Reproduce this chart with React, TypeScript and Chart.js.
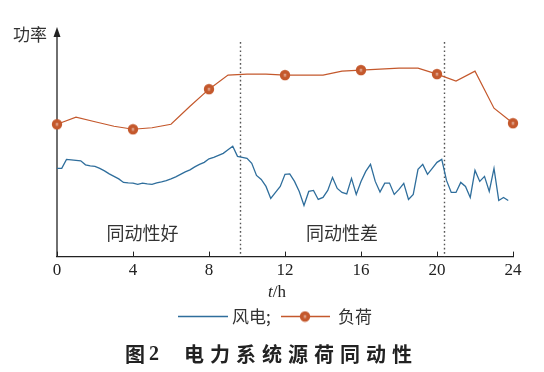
import { useEffect, useRef } from "react";
import { Chart, registerables } from "chart.js";

Chart.register(...registerables);

// ---- data ----
const hourTicks = [0, 4, 8, 12, 16, 20, 24];
// hourly load (arbitrary power units), hours 0..24
const loadValues = [
  132, 139, 134.5, 130, 127, 128.5, 132, 150, 167, 181, 182, 182, 181,
  181, 181, 185, 186, 187, 188, 188, 182, 175, 185, 148, 133,
];
// wind power every 15 min, hours 0..23.75
const windValues = [
  88, 88, 97, 96.5, 96, 95.5, 91.5, 90.5,
  90, 88, 85.5, 82.5, 80, 77.5, 74, 73.5,
  73.3, 72, 73.3, 72.5, 72, 73.5, 74.5, 75.7,
  77.5, 79.5, 82, 84.5, 86.5, 89.5, 92, 94,
  97.5, 99, 101, 103, 106.5, 110, 100, 99,
  98, 93, 81, 77, 70, 58, 64, 70,
  82, 82.5, 75, 65, 51, 65, 66, 57,
  59, 66, 79, 68, 64, 62.5, 78, 62,
  75, 85, 92, 75, 64.3, 73.3, 73.3, 62,
  67, 73, 57, 62, 87, 92, 82, 88,
  94, 97, 76, 64, 64, 74, 70, 59,
  86, 75, 80, 65, 88, 56, 59, 56,
];
const windStepHours = 0.25;
const boundaryHours = [9.63, 20.37];
const regionLabels = ["同动性好", "同动性差"];
const regionLabelHours = [4.5, 15];
const seriesNames = ["风电", "负荷"];
const yAxisName = "功率";
const captionPrefix = ["图", "2"];
const captionText = "电力系统源荷同动性";

const BLUE = "#2f6e9c";
const ORANGE = "#c4582c";
const INK = "#222222";
const CJK = '"Noto Sans CJK SC", sans-serif';
const SERIF = '"Liberation Serif", "Times New Roman", serif';

function makeMarker(): HTMLCanvasElement {
  const c = document.createElement("canvas");
  c.width = 12;
  c.height = 12;
  const g = c.getContext("2d")!;
  g.fillStyle = ORANGE;
  g.beginPath();
  g.arc(6, 6, 5.2, 0, Math.PI * 2);
  g.fill();
  g.strokeStyle = "rgba(255,255,255,0.75)";
  g.lineWidth = 0.8;
  g.beginPath();
  g.moveTo(4.7, 5.3);
  g.lineTo(7.3, 5.3);
  g.moveTo(4.7, 6.9);
  g.lineTo(7.3, 6.9);
  g.stroke();
  return c;
}

export default function App() {
  const ref = useRef<HTMLCanvasElement | null>(null);

  useEffect(() => {
    if (!ref.current) return;
    const marker = makeMarker();

    const overlay = {
      id: "overlay",
      beforeDatasetsDraw(chart: any) {
        const { ctx, chartArea, scales } = chart;
        const xs = scales.x;
        const ys = scales.y;
        ctx.save();
        // dotted boundaries
        ctx.strokeStyle = "#555";
        ctx.lineWidth = 1.4;
        ctx.setLineDash([1.6, 2.6]);
        for (const h of boundaryHours) {
          const px = Math.round(xs.getPixelForValue(h)) + 0.5;
          ctx.beginPath();
          ctx.moveTo(px, ys.getPixelForValue(214));
          ctx.lineTo(px, chartArea.bottom);
          ctx.stroke();
        }
        ctx.setLineDash([]);
        // inward ticks
        ctx.strokeStyle = INK;
        ctx.lineWidth = 1;
        for (const h of hourTicks) {
          const px = Math.round(xs.getPixelForValue(h)) + 0.5;
          ctx.beginPath();
          ctx.moveTo(px, chartArea.bottom);
          ctx.lineTo(px, chartArea.bottom - 5);
          ctx.stroke();
        }
        // y axis with arrow
        const ax = xs.getPixelForValue(0);
        ctx.lineWidth = 1.3;
        ctx.beginPath();
        ctx.moveTo(ax, chartArea.bottom);
        ctx.lineTo(ax, chartArea.top + 6);
        ctx.stroke();
        ctx.fillStyle = INK;
        ctx.beginPath();
        ctx.moveTo(ax, chartArea.top - 1);
        ctx.lineTo(ax - 3.5, chartArea.top + 9);
        ctx.lineTo(ax + 3.5, chartArea.top + 9);
        ctx.closePath();
        ctx.fill();
        // y axis name
        ctx.fillStyle = "#333";
        ctx.font = `17px ${CJK}`;
        ctx.textAlign = "left";
        ctx.textBaseline = "middle";
        ctx.fillText(yAxisName, 13, 35);
        // region labels
        ctx.font = `18px ${CJK}`;
        ctx.textAlign = "center";
        regionLabels.forEach((t, i) => {
          ctx.fillText(t, xs.getPixelForValue(regionLabelHours[i]), ys.getPixelForValue(23));
        });
        ctx.restore();
      },
      afterDraw(chart: any) {
        const { ctx } = chart;
        ctx.save();
        ctx.textBaseline = "middle";
        // x axis title t/h
        ctx.fillStyle = INK;
        ctx.font = `italic 17px ${SERIF}`;
        ctx.textAlign = "left";
        ctx.fillText("t", 268, 293);
        const tw = ctx.measureText("t").width;
        ctx.font = `17px ${SERIF}`;
        ctx.fillText("/h", 268 + tw, 293);
        // legend
        const ly = 316.5;
        ctx.lineWidth = 1.3;
        ctx.strokeStyle = BLUE;
        ctx.beginPath();
        ctx.moveTo(178, ly);
        ctx.lineTo(228, ly);
        ctx.stroke();
        ctx.fillStyle = "#333";
        ctx.font = `17px ${CJK}`;
        ctx.fillText(seriesNames[0] + ";", 232, ly);
        ctx.strokeStyle = ORANGE;
        ctx.beginPath();
        ctx.moveTo(281, ly);
        ctx.lineTo(330, ly);
        ctx.stroke();
        ctx.drawImage(marker, 305 - 6, ly - 6);
        ctx.fillText(seriesNames[1], 338, ly);
        // caption
        ctx.fillStyle = "#222";
        ctx.font = `bold 20px ${CJK}`;
        ctx.fillText(captionPrefix[0], 125, 354);
        ctx.font = `bold 20px ${SERIF}`;
        ctx.fillText(captionPrefix[1], 149, 355);
        ctx.font = `bold 20px ${CJK}`;
        Array.from(captionText).forEach((ch, i) => {
          ctx.fillText(ch, 184 + i * 26, 354);
        });
        ctx.restore();
      },
    };

    const chart = new Chart(ref.current, {
      type: "line",
      data: {
        datasets: [
          {
            label: seriesNames[0],
            data: windValues.map((v, i) => ({ x: i * windStepHours, y: v })),
            borderColor: BLUE,
            borderWidth: 1.3,
            pointRadius: 0,
            tension: 0,
          },
          {
            label: seriesNames[1],
            data: loadValues.map((v, i) => ({ x: i, y: v })),
            borderColor: ORANGE,
            borderWidth: 1.2,
            pointRadius: (c: any) => (hourTicks.includes(c.dataIndex) ? 5 : 0),
            pointStyle: (c: any) => (hourTicks.includes(c.dataIndex) ? marker : "circle"),
            tension: 0,
            clip: false as any,
          },
        ],
      },
      options: {
        responsive: false,
        animation: false,
        layout: { padding: { left: 57, right: 31, top: 28, bottom: 87 } },
        plugins: { legend: { display: false }, tooltip: { enabled: false } },
        scales: {
          x: {
            type: "linear",
            min: 0,
            max: 24,
            ticks: {
              stepSize: 4,
              color: INK,
              padding: 4,
              maxRotation: 0,
              font: { family: SERIF, size: 17 },
            },
            grid: { display: false, drawTicks: false },
            border: { display: true, color: INK, width: 1.3 },
          },
          y: { type: "linear", min: 0, max: 228, display: false },
        },
      },
      plugins: [overlay],
    });
    return () => chart.destroy();
  }, []);

  return (
    <div style={{ position: "fixed", left: 0, top: 0, width: 544, height: 372, background: "#fff" }}>
      <canvas ref={ref} width={544} height={372} style={{ width: 544, height: 372 }} />
    </div>
  );
}
